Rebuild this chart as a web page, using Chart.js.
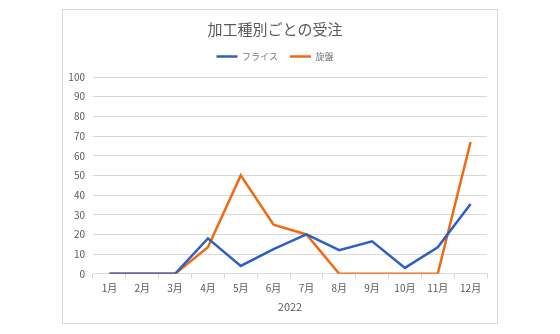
<!DOCTYPE html>
<html lang="ja">
<head>
<meta charset="UTF-8">
<title>加工種別ごとの受注</title>
<style>
  body { margin: 0; background: #fff; }
  #box {
    position: absolute; left: 62px; top: 9px;
    width: 434px; height: 313px;
    border: 1px solid #d9d9d9; background: #fff;
  }
</style>
</head>
<body>
<div id="box"><canvas id="chart"></canvas></div>
<script src="https://cdn.jsdelivr.net/npm/chart.js"></script>
<script>
const months = ['1月','2月','3月','4月','5月','6月','7月','8月','9月','10月','11月','12月'];
const mill  = [0, 0, 0, 18, 4, 12.5, 20, 12, 16.5, 3, 13.5, 35.5];   // フライス
const lathe = [0, 0, 0, 13.5, 50, 25, 20, 0, 0, 0, 0, 67];          // 旋盤
const yearLabel = '2022';

const font = '"Noto Sans CJK JP", "Noto Sans", sans-serif';
const grey = '#595959';

// leave a bit more room between the legend and the plot
const legendGap = {
  id: 'legendGap',
  beforeInit(chart) {
    const fit = chart.legend.fit;
    chart.legend.fit = function () {
      fit.bind(chart.legend)();
      this.height += 6;
    };
  }
};

new Chart(document.getElementById('chart'), {
  type: 'line',
  data: {
    labels: months,
    datasets: [
      { label: 'フライス', data: mill, borderColor: '#2d5fc4', backgroundColor: '#2d5fc4',
        borderWidth: 2.5, pointRadius: 0, tension: 0 },
      { label: '旋盤', data: lathe, borderColor: '#ef6a12', backgroundColor: '#ef6a12',
        borderWidth: 2.5, pointRadius: 0, tension: 0 }
    ]
  },
  options: {
    responsive: true,
    maintainAspectRatio: false,
    animation: false,
    layout: { padding: { left: 0, right: 10, top: 6, bottom: 6 } },
    plugins: {
      title: {
        display: true, text: '加工種別ごとの受注', color: grey,
        font: { family: font, size: 15, weight: 'normal' },
        padding: { top: 4, bottom: 2 }
      },
      legend: {
        labels: {
          color: '#757575', font: { family: font, size: 9 },
          usePointStyle: true, pointStyle: 'line', pointStyleWidth: 21,
          boxHeight: 3, padding: 12
        }
      },
      tooltip: { enabled: false }
    },
    scales: {
      x: {
        offset: true,
        grid: { offset: true, drawOnChartArea: false, drawTicks: true, tickLength: 5, color: '#d9d9d9' },
        border: { color: '#d9d9d9' },
        ticks: { color: grey, font: { family: font, size: 10 }, maxRotation: 0, padding: 3 },
        title: { display: true, text: yearLabel, color: grey, font: { family: font, size: 11 }, padding: { top: 3 } }
      },
      y: {
        min: 0, max: 100,
        ticks: { stepSize: 10, color: grey, font: { family: font, size: 10 }, padding: 8 },
        grid: { color: '#d9d9d9', drawTicks: false },
        border: { display: false },
        afterFit: s => { s.width = 30; }
      }
    }
  },
  plugins: [legendGap]
});
</script>
</body>
</html>
